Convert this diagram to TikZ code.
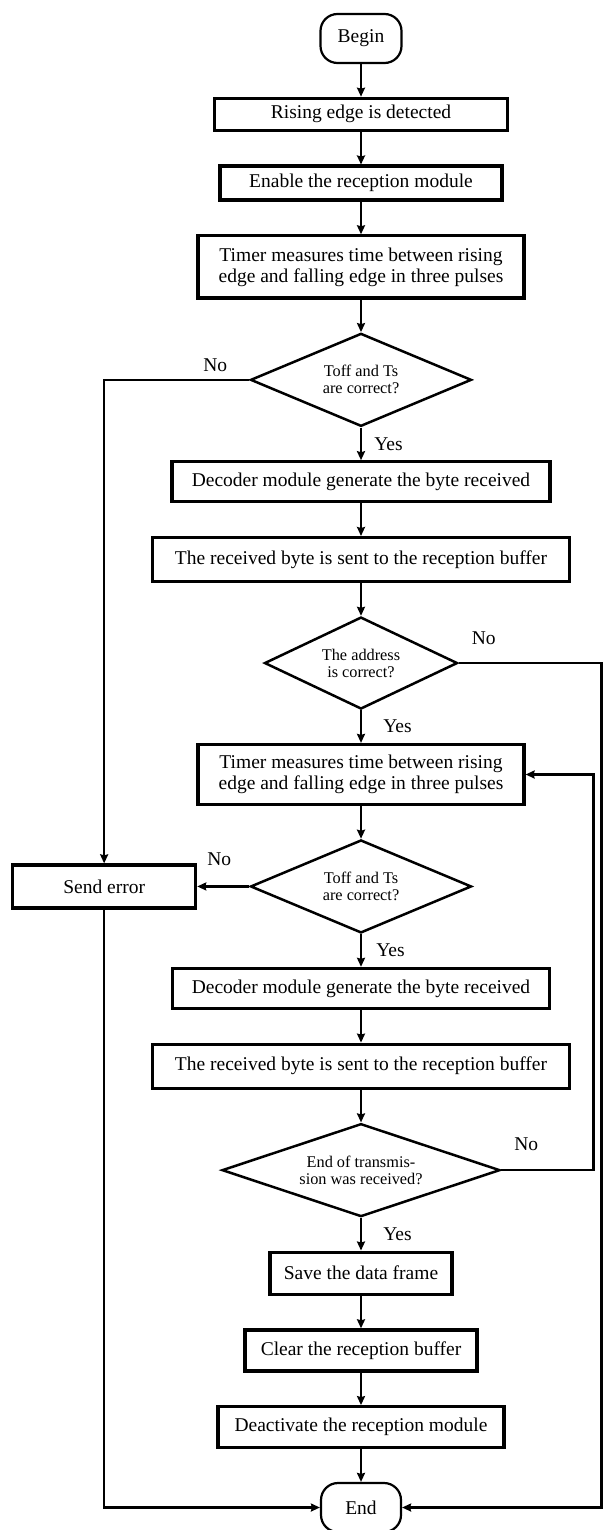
\documentclass[tikz,border=0pt]{standalone}
\usepackage{fontspec}
\setmainfont{Liberation Serif}
\usepackage{tikz}
\usetikzlibrary{shapes.geometric, arrows.meta, positioning, calc}

\begin{document}
\begin{tikzpicture}[
  font=\fontsize{19.5}{21}\selectfont, >={Stealth[length=9pt,width=8pt,inset=1pt]}, node distance=32.6pt,
  arr/.style={->, line width=2.5pt},
  term/.style={rectangle, rounded corners=17pt, draw, line width=2.2pt,
               inner sep=0pt, minimum width=81pt, minimum height=49pt},
  box/.style={rectangle, draw, line width=3.2pt, align=center, inner sep=0pt},
  dec/.style={diamond, aspect=2.4, draw, line width=2.5pt, align=center, inner sep=0pt,
              font={\fontsize{16.3}{17}\selectfont}},
  lbl/.style={inner sep=0pt}]
  \useasboundingbox (0pt,0pt) rectangle (602pt,-1530pt);
  \node[term] (start) at (361pt,-38.5pt) {Begin};
  \node[box, below=of start, minimum width=293pt, minimum height=32pt] (rise) {Rising edge is detected};
  \node[box, below=of rise, minimum width=282pt, minimum height=34pt] (enab) {Enable the reception module};
  \node[box, below=of enab, minimum width=326pt, minimum height=62pt] (tmr1) {Timer measures time between rising\\edge and falling edge in three pulses};
  \node[dec, below=of tmr1, minimum width=221pt, minimum height=93pt] (chk1) {Toff and Ts\\are correct?};
  \node[box, below=of chk1, minimum width=378pt, minimum height=40pt] (dcd1) {Decoder module generate the byte received};
  \node[box, below=of dcd1, minimum width=417pt, minimum height=44pt] (buf1) {The received byte is sent to the reception buffer};
  \node[dec, below=of buf1, minimum width=193pt, minimum height=92pt] (addr) {The address\\is correct?};
  \node[box, below=of addr, minimum width=326pt, minimum height=60pt] (tmr2) {Timer measures time between rising\\edge and falling edge in three pulses};
  \node[dec, below=of tmr2, minimum width=221pt, minimum height=93pt] (chk2) {Toff and Ts\\are correct?};
  \node[box, below=of chk2, minimum width=377pt, minimum height=40pt] (dcd2) {Decoder module generate the byte received};
  \node[box, below=of dcd2, minimum width=417pt, minimum height=44pt] (buf2) {The received byte is sent to the reception buffer};
  \node[dec, below=of buf2, minimum width=278pt, minimum height=93pt] (eot) {End of transmis-\\sion was received?};
  \node[box, below=of eot, minimum width=182pt, minimum height=42pt] (save) {Save the data frame};
  \node[box, below=of save, minimum width=232pt, minimum height=41pt] (clr) {Clear the reception buffer};
  \node[box, below=of clr, minimum width=286pt, minimum height=41pt] (deact) {Deactivate the reception module};
  \node[term, below=of deact, minimum width=80pt] (stop) {End};
  \node[box, left=52pt of chk2, minimum width=183pt, minimum height=43pt] (err) {Send error};
  \coordinate (rgt) at (601.5pt,0pt);

  \draw[arr] (start) -- (rise);
  \draw[arr] (rise) -- (enab);
  \draw[arr] (enab) -- (tmr1);
  \draw[arr] (tmr1) -- (chk1);
  \draw[arr] (chk1) -- node[lbl, right=12pt]{Yes} (dcd1);
  \draw[arr] (dcd1) -- (buf1);
  \draw[arr] (buf1) -- (addr);
  \draw[arr] (addr) -- node[lbl, right=21pt]{Yes} (tmr2);
  \draw[arr] (tmr2) -- (chk2);
  \draw[arr] (chk2) -- node[lbl, right=14pt]{Yes} (dcd2);
  \draw[arr] (dcd2) -- (buf2);
  \draw[arr] (buf2) -- (eot);
  \draw[arr] (eot) -- node[lbl, right=21pt]{Yes} (save);
  \draw[arr] (save) -- (clr);
  \draw[arr] (clr) -- (deact);
  \draw[arr] (deact) -- (stop);
  % error and loop-back branches
  \draw[arr] (chk1.west) -| (err.north);
  \draw[arr] (chk2.west) -- (err.east);
  \draw[arr] (err.south) |- (stop.west);
  \draw[arr] (addr.east) -| (rgt |- stop.east) -- (stop.east);
  \draw[arr] (eot.east) -| ([xshift=68pt]tmr2.east) -- (tmr2.east);
  \node[lbl] at ([xshift=-34pt,yshift=15pt]chk1.west) {No};
  \node[lbl] at ([xshift=25pt,yshift=25pt]addr.east) {No};
  \node[lbl] at ([xshift=-30pt,yshift=27pt]chk2.west) {No};
  \node[lbl] at ([xshift=25pt,yshift=26pt]eot.east) {No};
\end{tikzpicture}
\end{document}
